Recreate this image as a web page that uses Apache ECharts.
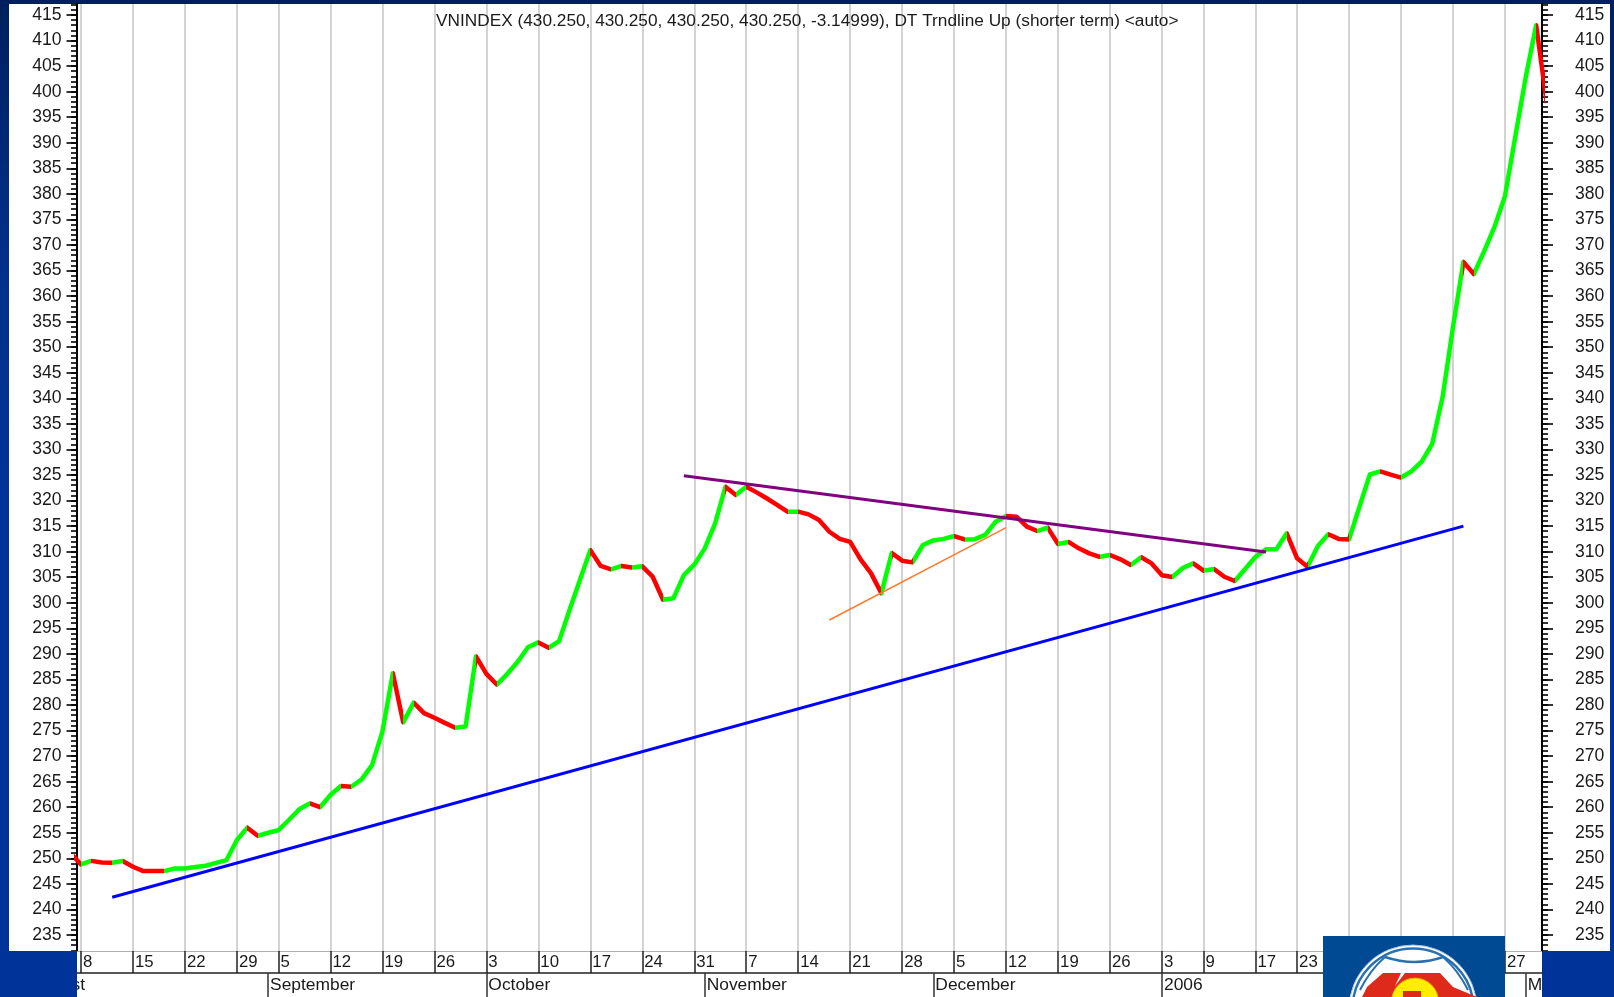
<!DOCTYPE html>
<html><head><meta charset="utf-8">
<style>html,body{margin:0;padding:0;background:#003399}#c{width:1614px;height:997px}</style>
<script src="https://cdn.jsdelivr.net/npm/echarts@6/dist/echarts.min.js"></script>
</head><body><div id="c"></div>
<script>
// index 0 = Aug 8 2005; series begins one trading day earlier (clipped by the axis)
const firstIndex = -1;
const closes = [251.0,248.8,249.5,249.2,249.14,249.47,248.36,247.5,247.5,247.5,
248.0,248.03,248.3,248.55,249.1,249.66,253.6,256.0,254.4,255.0,
255.5,257.5,259.6,260.75,260.0,262.4,264.15,264.0,265.45,268.25,
274.8,286.2,276.6,280.45,278.4,277.5,276.5,275.55,275.8,289.5,
286.1,284.0,286.05,288.4,291.3,292.25,291.2,292.5,298.6,304.45,
310.3,307.2,306.55,307.2,306.9,307.13,305.1,300.6,300.9,305.4,
307.45,310.6,315.5,322.7,321.1,322.7,321.6,320.4,319.1,317.8,
317.83,317.3,316.2,313.9,312.5,311.9,308.5,305.8,301.85,309.75,
308.24,307.9,311.3,312.2,312.5,313.06,312.4,312.45,313.3,315.87,
316.98,316.85,314.9,314.04,314.7,311.5,311.9,310.65,309.67,309.0,
309.35,308.5,307.4,308.9,307.7,305.4,305.04,306.8,307.7,306.28,
306.6,305.1,304.26,306.6,309.0,310.45,310.47,313.6,308.7,307.05,
311.1,313.4,312.5,312.4,318.8,325.1,325.7,325.06,324.5,325.7,
327.65,331.1,340.3,354.0,366.7,364.3,368.8,373.6,379.6,391.3,
402.9,413.0,398.0];

const weekIndex = [0,5,10,15,19,24,29,34,39,44,49,54,59,64,69,74,79,84,89,94,99,104,108,113,117,122,127,132,137];
const weekLabels = ['8','15','22','29','5','12','19','26','3','10','17','24','31','7','14','21','28','5','12','19','26','3','9','17','23','6','13','20','27'];
const hiddenByLogo = ['6','13','20'];
const monthIndex = [18,39,60,82,104,122,139];
const monthLabels = ['September','October','November','December','2006','February','March'];
const monthHiddenByLogo = ['February'];
const firstMonthLabel = 'August';
const yTicks = [235,240,245,250,255,260,265,270,275,280,285,290,295,300,305,310,315,320,325,330,335,340,345,350,355,360,365,370,375,380,385,390,395,400,405,410,415];
const yMinorTicks = []; for (let v = 232; v <= 417; v++) yMinorTicks.push(v);
const blueTrend = [[3,242.4],[133,315.0]];
const purpleTrend = [[58,324.86],[114,309.93]];
const orangeTrend = [[72,296.63],[89,314.7]];
const titleText = 'VNINDEX (430.250, 430.250, 430.250, 430.250, -3.14999), DT Trndline Up (shorter term) <auto>';

const font = '"Liberation Sans", Arial, sans-serif';
const ink = '#1a1a1a';
const priceData = closes.map((v,i)=>[i+firstIndex,v]);
const pieces = [];
for (let i=0;i<closes.length-1;i++) pieces.push({gte:i+firstIndex, lt:i+firstIndex+1, color: closes[i+1]>closes[i] ? '#00ff00' : '#ff0000'});

const yRange = {min:231.87, max:417.152};
const xRange = {min:-0.385, max:140.56};
function yAxis(position, custom, len, labels){
  return Object.assign({type:'value',position,...yRange,splitLine:{show:false},
    axisLine:{show:true,onZero:false,lineStyle:{color:'#000',width:2}},
    axisTick:{show:true,length:len,customValues:custom,lineStyle:{color:'#000',width:1.6}},
    axisLabel: labels ? {show:true,customValues:yTicks,margin:position==='left'?15.5:33,color:ink,fontFamily:font,fontSize:17.6,align:position==='left'?'right':'left'} : {show:false}
  });
}
const chart = echarts.init(document.getElementById('c'),null,{renderer:'canvas'});
const lg = new echarts.graphic.LinearGradient(0,0,0,1,[{offset:0,color:'#001f5e'},{offset:0.25,color:'#003088'},{offset:0.5,color:'#003399'},{offset:1,color:'#003399'}]);
const rect = (x,y,w,h,fill,z)=>({type:'rect',shape:{x,y,width:w,height:h},style:{fill},z,silent:true});
chart.setOption({
  animation:false,
  title:{text:titleText,left:431,top:8,textStyle:{fontFamily:font,fontSize:17.25,fontWeight:'normal',color:ink}},
  grid:{left:77,right:72,top:4,bottom:46,containLabel:false},
  xAxis:[
   {type:'value',position:'bottom',...xRange,
    axisLine:{show:true,onZero:false,lineStyle:{color:'#b0b0b0',width:1}},
    axisTick:{show:true,length:22,customValues:weekIndex,lineStyle:{color:'#222',width:1.5}},
    splitLine:{show:true,customValues:weekIndex,lineStyle:{color:'#c8c8c8',width:1.6}},
    axisLabel:{show:true,customValues:weekIndex.filter((_,i)=>!hiddenByLogo.includes(weekLabels[i])),
      margin:3,align:'left',padding:[0,0,0,2],color:ink,fontFamily:font,fontSize:16.8,hideOverlap:false,showMinLabel:true,showMaxLabel:true,
      formatter:v=>weekLabels[weekIndex.indexOf(v)]}},
   {type:'value',position:'bottom',offset:22,...xRange,splitLine:{show:false},
    axisLine:{show:true,onZero:false,lineStyle:{color:'#222',width:1.5}},
    axisTick:{show:true,length:24,customValues:monthIndex,lineStyle:{color:'#333',width:1.5}},
    axisLabel:{show:true,customValues:monthIndex.filter((_,i)=>!monthHiddenByLogo.includes(monthLabels[i])),
      margin:4,align:'left',padding:[0,0,0,2],color:ink,fontFamily:font,fontSize:17.4,hideOverlap:false,
      formatter:v=>monthLabels[monthIndex.indexOf(v)]}}
  ],
  yAxis:[yAxis('left',yTicks,10.5,true),yAxis('left',yMinorTicks,6,false),yAxis('right',yTicks,11,true),yAxis('right',yMinorTicks,6,false)],
  visualMap:{show:false,type:'piecewise',dimension:0,seriesIndex:0,pieces},
  series:[
   {name:'VNINDEX',type:'line',data:priceData,showSymbol:false,smooth:false,z:5,lineStyle:{width:4.5,join:'round',cap:'round'}},
   {name:'Long trend',type:'line',data:blueTrend,showSymbol:false,z:6,lineStyle:{color:'#0000ff',width:3},itemStyle:{color:'#0000ff'}},
   {name:'Resistance',type:'line',data:purpleTrend,showSymbol:false,z:6,lineStyle:{color:'#800080',width:3},itemStyle:{color:'#800080'}},
   {name:'Short trend',type:'line',data:orangeTrend,showSymbol:false,z:6,lineStyle:{color:'#ff7a2a',width:1.5},itemStyle:{color:'#ff7a2a'}}
  ],
  graphic:{elements:[
    rect(0,0,1614,997,lg,-5),
    rect(9,4,1601,947,'#ffffff',-4),
    rect(77,951,1465,46,'#ffffff',-4),
    {type:'text',style:{text:firstMonthLabel,x:85,y:985,align:'right',verticalAlign:'middle',fill:ink,font:'17.4px '+font},z:40,silent:true},
    rect(0,951,77,46,'#003399',50),
    rect(1543,951,71,46,'#003399',50),
    // logo
    rect(1323,936,182,61,'#004a93',60),
    {type:'circle',shape:{cx:1413,cy:1009,r:64},style:{fill:'#ffffff',stroke:'#9cc0e0',lineWidth:1},z:61,silent:true},
    {type:'circle',shape:{cx:1413,cy:1009,r:60.5},style:{fill:'#ffffff',stroke:'#2a6fb0',lineWidth:2.5},z:62,silent:true},
    {type:'bezierCurve',shape:{x1:1385,y1:957,cpx1:1415,cpy1:967,x2:1443,y2:957},style:{fill:null,stroke:'#2a6fb0',lineWidth:2.5},z:63,silent:true},
    {type:'bezierCurve',shape:{x1:1385,y1:957,cpx1:1370,cpy1:970,x2:1360,y2:990},style:{fill:null,stroke:'#2a6fb0',lineWidth:2},z:63,silent:true},
    {type:'bezierCurve',shape:{x1:1443,y1:957,cpx1:1458,cpy1:970,x2:1468,y2:990},style:{fill:null,stroke:'#2a6fb0',lineWidth:2},z:63,silent:true},
    {type:'polygon',shape:{points:[[1383,973],[1401,973],[1395,986],[1405,973],[1440,973],[1453,987],[1477,997],[1362,997],[1367,987]]},style:{fill:'#dd2a1a'},z:64,silent:true},
    {type:'circle',shape:{cx:1415,cy:1001.5,r:23.4},style:{fill:'#ffee00',stroke:'#e8b000',lineWidth:1},z:65,silent:true},
    {type:'rect',shape:{x:1403,y:991,width:18,height:6},style:{fill:'#dd2a1a'},z:66,silent:true}
  ]}
});
</script></body></html>
